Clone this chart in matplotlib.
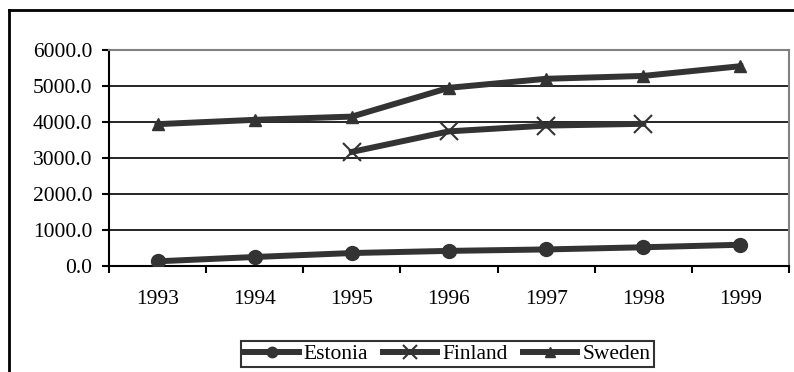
import matplotlib
matplotlib.use("Agg")
import matplotlib.pyplot as plt
import numpy as np
from matplotlib.lines import Line2D

years = ["1993", "1994", "1995", "1996", "1997", "1998", "1999"]
estonia = [130, 250, 360, 420, 460, 520, 590]
finland = [np.nan, np.nan, 3170, 3740, 3900, 3950, np.nan]
sweden = [3940, 4060, 4150, 4950, 5200, 5280, 5550]

plt.rcParams['font.family'] = ['Liberation Serif', 'DejaVu Serif']
fs = 15.5
col = '#333333'

fig = plt.figure(figsize=(7.94, 3.72), dpi=100)
W, H = 794, 372
ax = fig.add_axes([109/W, (H-266)/H, 680/W, 216/H])

x = np.arange(len(years))
lw = 4.3
ax.plot(x, estonia, color=col, lw=lw, marker='o', ms=10, label='Estonia', zorder=3)
ax.plot(x, finland, color=col, lw=lw, marker='x', ms=13, mew=1.5, label='Finland', zorder=3)
ax.plot(x, sweden, color=col, lw=lw, marker='^', ms=9, label='Sweden', zorder=3)

ax.set_xlim(-0.5, 6.5)
ax.set_ylim(0, 6000)
ax.set_yticks(np.arange(0, 6001, 1000))
ax.set_yticklabels([f"{v:.1f}" for v in np.arange(0, 6001, 1000)], fontsize=fs)
for v in range(1000, 6000, 1000):
    ax.axhline(v, color='black', lw=1.2, zorder=1)

ax.set_xticks(np.arange(-0.5, 7, 1))
ax.set_xticklabels([])
ax.set_xticks(x, minor=True)
ax.set_xticklabels(years, minor=True, fontsize=fs)
ax.tick_params(axis='x', which='minor', length=0, pad=17)
ax.tick_params(axis='x', which='major', direction='out', length=5, width=1.5, color='black')
ax.tick_params(axis='y', direction='out', length=5, width=1.5, pad=7)

for s in ['left', 'bottom']:
    ax.spines[s].set_color('black')
    ax.spines[s].set_linewidth(1.5)
for s in ['top', 'right']:
    ax.spines[s].set_color('#808080')
    ax.spines[s].set_linewidth(1.5)

# outer chart border (left and top visible)
fig.add_artist(Line2D([8.5/W, 8.5/W], [0, 1 - 10/H], transform=fig.transFigure, color='black', lw=2))
fig.add_artist(Line2D([8.5/W, 1.0], [1 - 10/H, 1 - 10/H], transform=fig.transFigure, color='black', lw=2))

leg = fig.legend(loc='center', bbox_to_anchor=(447.5/W, (H-354)/H), ncol=3, fontsize=fs,
                 frameon=True, fancybox=False, edgecolor='black', handlelength=2.5,
                 handletextpad=0.25, columnspacing=0.7, borderpad=0.15, borderaxespad=0,
                 markerscale=0.75)
leg.get_frame().set_linewidth(1.5)

fig.savefig('out.png', dpi=100)
